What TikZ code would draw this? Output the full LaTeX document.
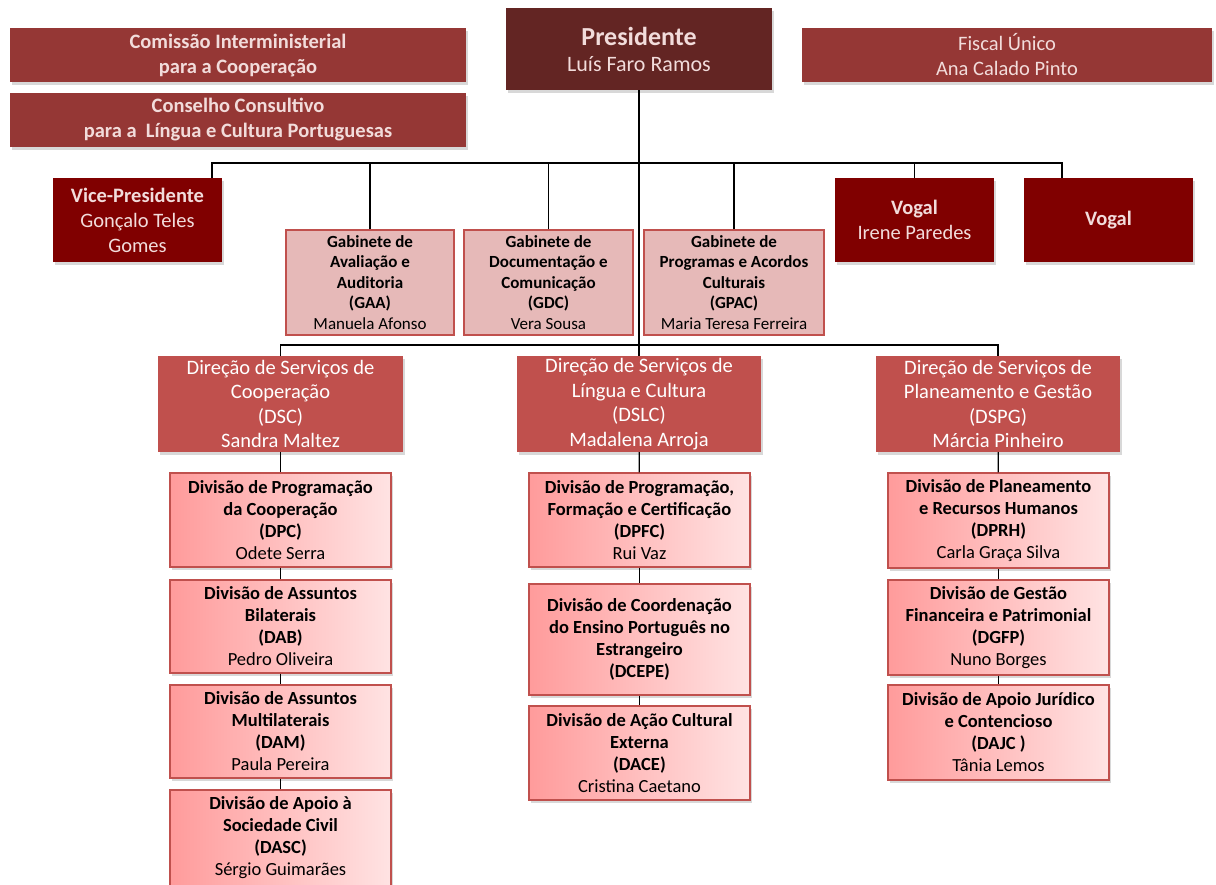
\documentclass[tikz,border=0pt]{standalone}
\usepackage{fontspec}
\setmainfont{Carlito}
\usetikzlibrary{shadows}

\definecolor{topred}{HTML}{953735}
\definecolor{presred}{HTML}{632523}
\definecolor{boardred}{HTML}{800000}
\definecolor{gabpink}{HTML}{E6B9B8}
\definecolor{dirred}{HTML}{C0504D}
\definecolor{divleft}{HTML}{FF9B9B}
\definecolor{divright}{HTML}{FFE3E3}
\definecolor{lighttext}{HTML}{F2DCDB}

\begin{document}
\begin{tikzpicture}[x=1pt, y=-1pt,
    boxshadow/.style={drop shadow={shadow xshift=2pt, shadow yshift=-3pt, opacity=0.3}},
    topbox/.style={boxshadow, fill=topred, text=lighttext, align=center, inner sep=0pt,
        minimum width=456pt, minimum height=54pt, font=\fontsize{20.5}{25}\selectfont},
    presbox/.style={boxshadow, fill=presred, text=lighttext, align=center, inner sep=0pt,
        minimum width=266pt, minimum height=82pt, font=\fontsize{22}{26}\selectfont},
    boardbox/.style={boxshadow, fill=boardred, text=lighttext, align=center, inner sep=0pt,
        minimum width=169pt, minimum height=84pt, font=\fontsize{20.5}{25}\selectfont},
    gabbox/.style={fill=gabpink, draw=dirred, line width=1.2pt, text=black, align=center, inner sep=0pt,
        minimum height=105pt, font=\fontsize{17}{20.5}\selectfont\bfseries},
    dirbox/.style={boxshadow, fill=dirred, text=white, align=center, inner sep=0pt,
        minimum width=244pt, minimum height=96pt, font=\fontsize{20.5}{24.5}\selectfont},
    divbox/.style={boxshadow, left color=divleft, right color=divright, draw=dirred, line width=1.2pt,
        text=black, align=center, inner sep=0pt, minimum width=221pt, minimum height=94pt,
        font=\fontsize{18.5}{22}\selectfont\bfseries},
    link/.style={draw=black, line width=1.2pt}]
    \useasboundingbox[fill=white] (0,0) rectangle (1216,885);
    % Nodes
    \node[topbox] (cic) at (238,55.5) {\textbf{Comissão Interministerial}\\\textbf{para a Cooperação}};
    \node[topbox] (cclcp) at (238,120) {\textbf{Conselho Consultivo}\\\textbf{para a~ Língua e Cultura Portuguesas}};
    \node[presbox] (pres) at (639,49) {{\fontsize{26}{30}\selectfont\bfseries Presidente}\\Luís Faro Ramos};
    \node[topbox, minimum width=410pt] (fiscal) at (1007,55) {Fiscal Único\\Ana Calado Pinto};
    \node[boardbox] (vp) at (137.5,220) {\textbf{Vice-Presidente}\\Gonçalo Teles\\Gomes};
    \node[boardbox, minimum width=159pt] (vogalA) at (914.5,220) {\textbf{Vogal}\\Irene Paredes};
    \node[boardbox] (vogalB) at (1108.5,220) {\textbf{Vogal}};
    \node[gabbox, minimum width=168pt] (gaa) at (370,282.5) {Gabinete de\\Avaliação e\\Auditoria\\(GAA)\\\mdseries Manuela Afonso};
    \node[gabbox, minimum width=169pt] (gdc) at (548.5,282.5) {Gabinete de\\Documentação e\\Comunicação\\(GDC)\\\mdseries Vera Sousa};
    \node[gabbox, minimum width=180pt] (gpac) at (734,282.5) {Gabinete de\\Programas e Acordos\\Culturais\\(GPAC)\\\mdseries Maria Teresa Ferreira};
    \node[dirbox, minimum width=245pt] (dsc) at (280.5,404) {Direção de Serviços de\\Cooperação\\(DSC)\\Sandra Maltez};
    \node[dirbox] (dslc) at (639,404) {Direção de Serviços de\\Língua e Cultura\\(DSLC)\\Madalena Arroja};
    \node[dirbox] (dspg) at (998,404) {Direção de Serviços de\\Planeamento e Gestão\\(DSPG)\\Márcia Pinheiro};
    \node[divbox] (dpc) at (280.5,520) {Divisão de Programação\\da Cooperação\\(DPC)\\\mdseries Odete Serra};
    \node[divbox, minimum height=93pt] (dab) at (280.5,626.5) {Divisão de Assuntos\\Bilaterais\\(DAB)\\\mdseries Pedro Oliveira};
    \node[divbox, minimum height=93pt] (dam) at (280.5,731.5) {Divisão de Assuntos\\Multilaterais\\(DAM)\\\mdseries Paula Pereira};
    \node[divbox, minimum height=96pt] (dasc) at (280.5,838) {Divisão de Apoio à\\Sociedade Civil\\(DASC)\\\mdseries Sérgio Guimarães};
    \node[divbox] (dpfc) at (639.5,520) {Divisão de Programação,\\Formação e Certificação\\(DPFC)\\\mdseries Rui Vaz};
    \node[divbox, minimum height=111pt] (dcepe) at (639.5,639.5) {Divisão de Coordenação\\do Ensino Português no\\Estrangeiro\\(DCEPE)};
    \node[divbox] (dace) at (639.5,753) {Divisão de Ação Cultural\\Externa\\(DACE)\\\mdseries Cristina Caetano};
    \node[divbox, minimum height=95pt] (dprh) at (998.5,520.5) {Divisão de Planeamento\\e Recursos Humanos\\(DPRH)\\\mdseries Carla Graça Silva};
    \node[divbox, minimum height=95pt] (dgfp) at (998.5,627.5) {Divisão de Gestão\\Financeira e Patrimonial\\(DGFP)\\\mdseries Nuno Borges};
    \node[divbox, minimum height=95pt] (dajc) at (998.5,732.5) {Divisão de Apoio Jurídico\\e Contencioso\\(DAJC )\\\mdseries Tânia Lemos};
    \coordinate (busL) at (212,163);
    \coordinate (busR) at (1062,163);
    % Edges
    \draw[link] (pres) -- (dslc);
    \draw[link] (vp.north -| busL) -- (busL) -- (busR) -- (vogalB.north -| busR);
    \draw[link] (gaa.north) -- (gaa.north |- busL);
    \draw[link] (gdc.north) -- (gdc.north |- busL);
    \draw[link] (gpac.north) -- (gpac.north |- busL);
    \draw[link] (vogalA.north) -- (vogalA.north |- busL);
    \draw[link] (dsc.north) -- (dsc.north |- 0,345) -| (dspg.north);
    \draw[link] (dsc) -- (dpc);
    \draw[link] (dpc) -- (dab);
    \draw[link] (dab) -- (dam);
    \draw[link] (dam) -- (dasc);
    \draw[link] (dslc) -- (dpfc);
    \draw[link] (dpfc) -- (dcepe);
    \draw[link] (dcepe) -- (dace);
    \draw[link] (dspg) -- (dprh);
    \draw[link] (dprh) -- (dgfp);
    \draw[link] (dgfp) -- (dajc);
\end{tikzpicture}
\end{document}
